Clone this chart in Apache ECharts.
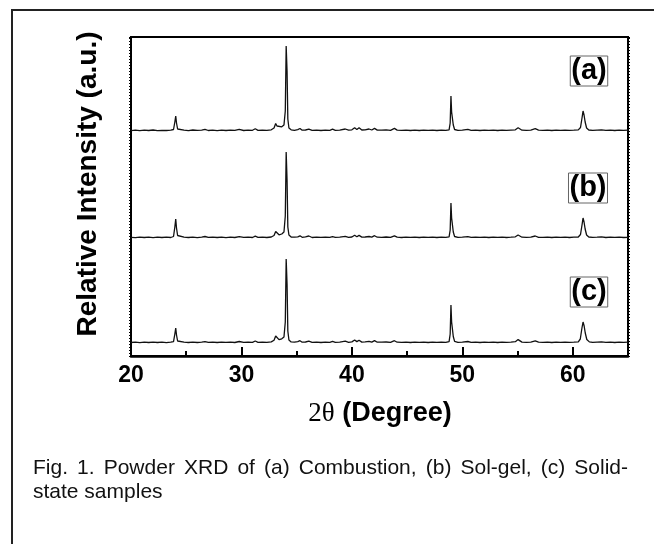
<!DOCTYPE html>
<html>
<head>
<meta charset="utf-8">
<script src="https://cdn.jsdelivr.net/npm/echarts@6/dist/echarts.min.js"></script>
<style>html,body{margin:0;padding:0;background:#fff}#c{width:654px;height:544px}</style>
</head>
<body>
<div id="c"></div>
<script>
// ---- data (2θ in degrees, relative intensity in a.u.) ----
const xTickLabels = [20, 30, 40, 50, 60];
const sampleNames = ['(a)', '(b)', '(c)'];
const offsets = [225, 118, 13];   // vertical stacking offsets of each pattern (a.u.)

const sampleA = [
[20.0,0.4],[20.4,0.9],[20.8,0.3],[21.2,0.8],[21.6,0.5],[22.0,1.0],[22.4,0.4],[22.8,0.7],[23.2,0.5],[23.6,0.9],[23.85,1.5],[23.97,9],[24.05,15],[24.12,8],[24.22,2],[24.4,0.5],[24.8,0.8],[25.2,0.4],[25.6,1.0],[26.0,0.6],[26.4,0.9],[26.7,1.7],[27.0,0.5],[27.4,0.9],[27.8,0.4],[28.2,0.8],[28.6,0.5],[29.0,0.9],[29.4,0.6],[29.8,1.6],[30.2,0.5],[30.6,0.9],[31.0,0.7],[31.25,2.2],[31.5,0.6],[31.9,0.9],[32.3,0.7],[32.7,1.2],[32.95,3],[33.1,7.5],[33.22,5],[33.4,3.5],[33.65,4.2],[33.85,6],[33.97,20],[34.05,85],[34.13,60],[34.2,12],[34.3,3],[34.5,1.2],[34.8,0.7],[35.1,1.4],[35.3,2.5],[35.5,0.8],[35.8,1.0],[36.1,1.9],[36.4,0.6],[36.8,0.9],[37.2,0.5],[37.6,0.9],[38.0,0.7],[38.25,1.8],[38.5,0.6],[38.9,0.9],[39.4,2.0],[39.7,0.8],[40.0,1.2],[40.25,3.2],[40.45,1.5],[40.65,3.3],[40.9,1.0],[41.2,1.2],[41.55,2.0],[41.8,1.0],[42.05,2.6],[42.3,0.9],[42.7,0.8],[43.1,1.1],[43.5,0.7],[43.85,2.6],[44.1,0.9],[44.5,0.6],[44.9,0.9],[45.3,0.5],[45.7,0.8],[46.1,0.5],[46.5,0.9],[46.9,0.6],[47.3,0.8],[47.7,0.5],[48.1,0.9],[48.5,0.6],[48.8,1.2],[48.9,8],[48.97,35],[49.03,19],[49.1,17],[49.18,6],[49.3,1.5],[49.6,0.7],[50.0,0.9],[50.5,1.6],[50.8,0.6],[51.2,0.9],[51.6,0.5],[52.0,0.8],[52.4,0.6],[52.8,0.9],[53.2,0.5],[53.6,0.8],[54.0,0.6],[54.4,0.9],[54.8,1.2],[55.05,3.2],[55.2,2.5],[55.4,0.8],[55.8,0.7],[56.2,0.9],[56.6,2.3],[56.9,0.8],[57.3,0.6],[57.7,0.9],[58.1,0.5],[58.5,0.8],[58.9,0.6],[59.3,0.9],[59.7,0.6],[60.1,0.8],[60.5,1.1],[60.7,3.5],[60.85,14],[60.93,20],[61.02,16],[61.12,9],[61.25,3],[61.45,1.0],[61.8,0.6],[62.2,0.9],[62.6,1.2],[63.0,0.6],[63.4,0.9],[63.8,0.5],[64.2,0.8],[64.6,0.6],[65.0,0.8]
];

const sampleB = [
[20.0,0.6],[20.4,0.3],[20.8,0.9],[21.2,0.5],[21.6,0.8],[22.0,0.4],[22.4,0.9],[22.8,0.5],[23.2,0.8],[23.6,0.5],[23.85,1.5],[23.97,11],[24.05,19],[24.12,10],[24.22,2.5],[24.4,0.6],[24.8,0.9],[25.2,0.5],[25.6,0.8],[26.0,0.4],[26.4,0.9],[26.7,1.5],[27.0,0.6],[27.4,0.8],[27.8,0.5],[28.2,0.9],[28.6,0.4],[29.0,0.8],[29.4,0.5],[29.8,1.4],[30.2,0.6],[30.6,0.8],[31.0,0.5],[31.25,1.8],[31.5,0.7],[31.9,0.8],[32.3,0.5],[32.7,1.0],[32.95,2.5],[33.1,6.5],[33.22,4.5],[33.4,3.2],[33.65,4.0],[33.85,6],[33.97,22],[34.05,86],[34.13,58],[34.2,11],[34.3,3],[34.5,1.0],[34.8,0.8],[35.1,1.2],[35.3,2.2],[35.5,0.7],[35.8,1.1],[36.1,2.0],[36.4,0.5],[36.8,0.8],[37.2,0.6],[37.6,0.9],[38.0,0.6],[38.25,1.4],[38.5,0.7],[38.9,0.8],[39.4,1.6],[39.7,0.7],[40.0,1.0],[40.25,2.8],[40.45,1.3],[40.65,2.6],[40.9,0.9],[41.2,1.0],[41.55,1.5],[41.8,0.9],[42.05,2.3],[42.3,0.8],[42.7,0.7],[43.1,1.0],[43.5,0.6],[43.85,2.2],[44.1,0.8],[44.5,0.5],[44.9,0.8],[45.3,0.6],[45.7,0.9],[46.1,0.5],[46.5,0.8],[46.9,0.6],[47.3,0.9],[47.7,0.5],[48.1,0.8],[48.5,0.6],[48.8,1.2],[48.9,8],[48.97,35],[49.03,20],[49.1,18],[49.18,6],[49.3,1.5],[49.6,0.6],[50.0,0.8],[50.5,1.4],[50.8,0.7],[51.2,0.8],[51.6,0.6],[52.0,0.9],[52.4,0.5],[52.8,0.8],[53.2,0.6],[53.6,0.9],[54.0,0.5],[54.4,0.8],[54.8,1.2],[55.05,3.0],[55.2,2.3],[55.4,0.8],[55.8,0.6],[56.2,0.8],[56.6,2.0],[56.9,0.7],[57.3,0.6],[57.7,0.8],[58.1,0.5],[58.5,0.9],[58.9,0.6],[59.3,0.8],[59.7,0.5],[60.1,0.8],[60.5,1.0],[60.7,3.5],[60.85,14],[60.93,20],[61.02,16],[61.12,9],[61.25,3],[61.45,1.0],[61.8,0.6],[62.2,0.8],[62.6,1.1],[63.0,0.5],[63.4,0.8],[63.8,0.6],[64.2,0.9],[64.6,0.5],[65.0,0.7]
];

const sampleC = [
[20.0,0.5],[20.4,0.8],[20.8,0.4],[21.2,0.9],[21.6,0.5],[22.0,0.8],[22.4,0.5],[22.8,0.9],[23.2,0.4],[23.6,0.8],[23.85,1.4],[23.97,9],[24.05,15],[24.12,8],[24.22,2],[24.4,0.6],[24.8,0.8],[25.2,0.5],[25.6,0.9],[26.0,0.5],[26.4,0.8],[26.7,1.4],[27.0,0.6],[27.4,0.9],[27.8,0.5],[28.2,0.8],[28.6,0.6],[29.0,0.9],[29.4,0.5],[29.8,1.5],[30.2,0.6],[30.6,0.8],[31.0,0.6],[31.25,2.0],[31.5,0.7],[31.9,0.9],[32.3,0.6],[32.7,1.1],[32.95,2.8],[33.1,7],[33.22,5],[33.4,3.4],[33.65,4.2],[33.85,6],[33.97,21],[34.05,84],[34.13,59],[34.2,12],[34.3,3],[34.5,1.1],[34.8,0.8],[35.1,1.3],[35.3,2.3],[35.5,0.8],[35.8,1.0],[36.1,1.9],[36.4,0.6],[36.8,0.9],[37.2,0.5],[37.6,0.8],[38.0,0.7],[38.25,1.6],[38.5,0.6],[38.9,0.9],[39.4,1.8],[39.7,0.7],[40.0,1.1],[40.25,3.0],[40.45,1.4],[40.65,2.8],[40.9,0.9],[41.2,1.1],[41.55,1.7],[41.8,0.9],[42.05,2.4],[42.3,0.8],[42.7,0.8],[43.1,1.0],[43.5,0.7],[43.85,2.3],[44.1,0.8],[44.5,0.6],[44.9,0.9],[45.3,0.5],[45.7,0.8],[46.1,0.6],[46.5,0.9],[46.9,0.5],[47.3,0.8],[47.7,0.6],[48.1,0.9],[48.5,0.6],[48.8,1.3],[48.9,9],[48.97,38],[49.03,21],[49.1,19],[49.18,6.5],[49.3,1.6],[49.6,0.7],[50.0,0.9],[50.5,1.5],[50.8,0.6],[51.2,0.9],[51.6,0.5],[52.0,0.8],[52.4,0.6],[52.8,0.9],[53.2,0.5],[53.6,0.8],[54.0,0.6],[54.4,0.9],[54.8,1.3],[55.05,3.4],[55.2,2.6],[55.4,0.9],[55.8,0.7],[56.2,0.9],[56.6,2.1],[56.9,0.8],[57.3,0.6],[57.7,0.9],[58.1,0.5],[58.5,0.8],[58.9,0.6],[59.3,0.9],[59.7,0.6],[60.1,0.8],[60.5,1.2],[60.68,4],[60.83,15],[60.93,21],[61.03,17],[61.13,10],[61.27,3.5],[61.5,1.1],[61.8,0.6],[62.2,0.9],[62.6,1.1],[63.0,0.6],[63.4,0.9],[63.8,0.5],[64.2,0.8],[64.6,0.6],[65.0,0.8]
];

const xTitlePre = '2\u03b8';
const xTitle = '(Degree)';
const yTitle = 'Relative Intensity (a.u.)';
const captionLine1 = 'Fig. 1. Powder XRD of (a) Combustion, (b) Sol-gel, (c) Solid-';
const captionLine2 = 'state samples';

// ---- fonts ----
const SANS = '"Liberation Sans", Arial, Helvetica, sans-serif';
function hasFont(name) {
  const c = document.createElement('canvas').getContext('2d');
  const t = '0123456789 abcdefghij WMQ';
  c.font = '24px monospace'; const w1 = c.measureText(t).width;
  c.font = '24px "' + name + '", monospace'; const w2 = c.measureText(t).width;
  c.font = '24px serif'; const w3 = c.measureText(t).width;
  c.font = '24px "' + name + '", serif'; const w4 = c.measureText(t).width;
  return w1 !== w2 && w3 !== w4;
}
const NARROW_OK = hasFont('Liberation Sans Narrow');
const tickFamily = NARROW_OK ? '"Liberation Sans Narrow", ' + SANS : SANS;
const tickSize = NARROW_OK ? 24 : 23;

// ---- chart ----
const samples = [sampleA, sampleB, sampleC];
const chart = echarts.init(document.getElementById('c'), null, {renderer: 'canvas'});

const series = samples.map((s, i) => ({
  type: 'line',
  name: sampleNames[i],
  data: s.map(p => [p[0], p[1] + offsets[i]]),
  showSymbol: false,
  symbol: 'none',
  smooth: false,
  lineStyle: {color: '#111', width: 1.3},
  animation: false,
  z: 3
}));

// justified caption line 1
const cv = document.createElement('canvas').getContext('2d');
const capFont = '21px ' + SANS;
cv.font = capFont;
const words = captionLine1.split(' ');
const capX0 = 33, capX1 = 628;
const wWidths = words.map(w => cv.measureText(w).width);
const totalW = wWidths.reduce((a, b) => a + b, 0);
const gap = (capX1 - capX0 - totalW) / (words.length - 1);
const captionEls = [];
let cx = capX0;
words.forEach((w, i) => {
  captionEls.push({type: 'text', style: {x: cx, y: 468, text: w, font: capFont, fill: '#111', textVerticalAlign: 'middle'}});
  cx += wWidths[i] + gap;
});
captionEls.push({type: 'text', style: {x: capX0, y: 492, text: captionLine2, font: capFont, fill: '#111', textVerticalAlign: 'middle'}});

const boxCenters = [[589, 71], [588, 188], [589, 292]];
const boxEls = sampleNames.map((n, i) => ({
  type: 'text',
  z: 10,
  style: {
    x: boxCenters[i][0], y: boxCenters[i][1], text: n,
    font: 'bold 29px ' + tickFamily, fill: '#000',
    align: 'center', verticalAlign: 'middle',
    borderColor: '#666', borderWidth: 1, padding: [1, 1, 0, 1]
  }
}));

const option = {
  backgroundColor: '#fff',
  animation: false,
  grid: {left: 131, right: 26, top: 37, bottom: 188, show: true, borderColor: '#000', borderWidth: 2, backgroundColor: 'transparent'},
  xAxis: [
    {
      type: 'value', position: 'bottom', min: 20, max: 65, interval: 10,
      axisLine: {show: true, lineStyle: {color: '#000', width: 2.5}},
      axisTick: {show: true, inside: true, length: 9, lineStyle: {color: '#000', width: 2}},
      axisLabel: {
        show: true, margin: 8, color: '#000', fontFamily: tickFamily, fontWeight: 'bold', fontSize: tickSize,
        formatter: v => (xTickLabels.indexOf(v) >= 0 ? String(v) : '')
      },
      splitLine: {show: false}
    },
    {
      type: 'value', position: 'bottom', min: 20, max: 65, interval: 5, gridIndex: 0,
      axisLine: {show: false},
      axisTick: {show: true, inside: true, length: 5, lineStyle: {color: '#000', width: 2}},
      axisLabel: {show: false},
      splitLine: {show: false}
    }
  ],
  yAxis: [
    {
      type: 'value', position: 'left', min: 0, max: 319, interval: 3,
      axisLine: {show: true, lineStyle: {color: '#000', width: 2}},
      axisTick: {show: true, inside: false, length: 2, lineStyle: {color: '#000', width: 1}},
      axisLabel: {show: false}, splitLine: {show: false}
    },
    {
      type: 'value', position: 'right', min: 0, max: 319, interval: 3,
      axisLine: {show: true, lineStyle: {color: '#000', width: 2}},
      axisTick: {show: true, inside: false, length: 2, lineStyle: {color: '#000', width: 1}},
      axisLabel: {show: false}, splitLine: {show: false}
    }
  ],
  series: series,
  graphic: [
    {type: 'rect', shape: {x: 12, y: 10, width: 700, height: 600}, style: {fill: 'none', stroke: '#222', lineWidth: 2}, silent: true},
    {
      type: 'text', rotation: Math.PI / 2, x: 88, y: 184,
      style: {x: 0, y: 0, text: yTitle, font: 'bold 28px ' + SANS, fill: '#000', align: 'center', verticalAlign: 'middle'}
    },
    {
      type: 'text', x: 380, y: 414,
      style: {
        x: 0, y: 0, align: 'center', verticalAlign: 'middle',
        text: '{p|' + xTitlePre + '}{q| ' + xTitle + '}',
        rich: {
          p: {fontFamily: '"Liberation Serif", "Times New Roman", serif', fontSize: 27, fill: '#000', fontWeight: 'normal'},
          q: {fontFamily: SANS, fontSize: 27, fontWeight: 'bold', fill: '#000'}
        }
      }
    }
  ].concat(boxEls).concat(captionEls)
};
chart.setOption(option);
</script>
</body>
</html>
